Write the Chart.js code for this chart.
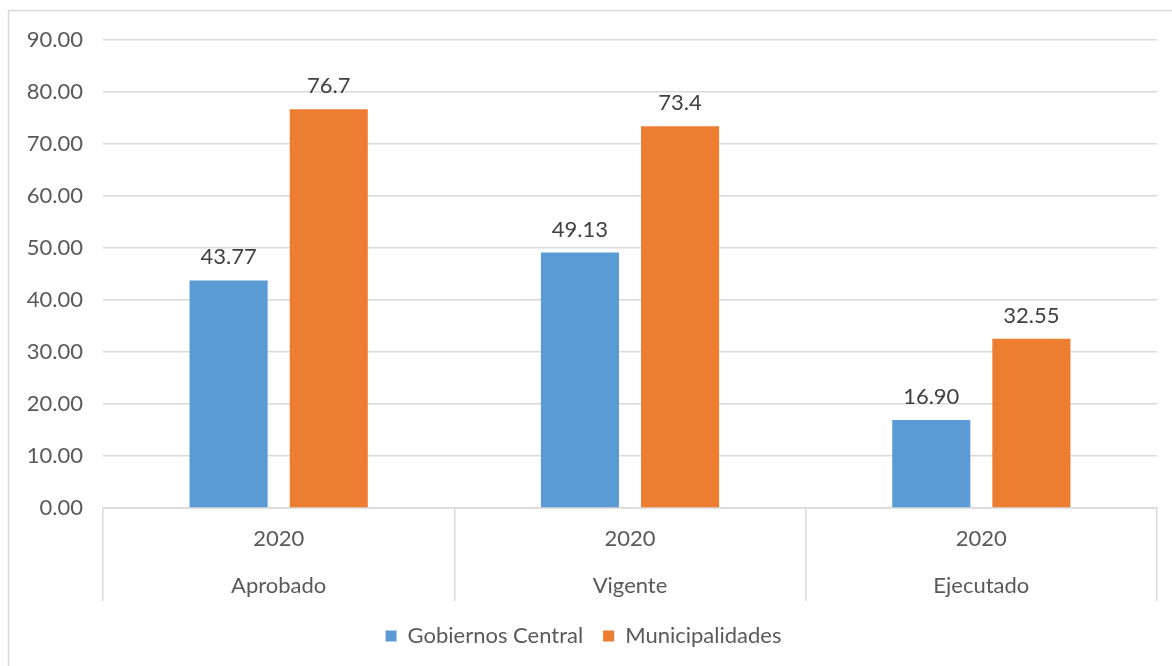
<!DOCTYPE html>
<html>
<head>
<meta charset="utf-8">
<script src="https://cdn.jsdelivr.net/npm/chart.js@4.4.1/dist/chart.umd.min.js"></script>
<style>
  html, body { margin: 0; padding: 0; background: #fff; }
  #wrap { width: 1172px; height: 666px; position: relative; }
</style>
</head>
<body>
<div id="wrap"><canvas id="chart" width="1172" height="666"></canvas></div>
<script>
// categories (two-level axis: year / stage)
const years = ['2020', '2020', '2020'];
const stages = ['Aprobado', 'Vigente', 'Ejecutado'];

// series
const central = [43.77, 49.13, 16.90];
const municipal = [76.7, 73.4, 32.55];
const centralLabels = ['43.77', '49.13', '16.90'];
const municipalLabels = ['76.7', '73.4', '32.55'];

const FONT = 'Lato, "Open Sans", sans-serif';
const TEXT = '#595959';
const GRID = '#D9D9D9';

// outer frame like the Excel chart border (right and bottom edges fall outside the crop)
const framePlugin = {
  id: 'frame',
  beforeDraw(chart) {
    const ctx = chart.ctx;
    ctx.save();
    ctx.strokeStyle = GRID;
    ctx.lineWidth = 1.5;
    ctx.strokeRect(8.5, 10.5, chart.width + 20, chart.height + 20);
    ctx.restore();
  },
};

// value labels above each bar
const valueLabels = {
  id: 'valueLabels',
  afterDatasetsDraw(chart) {
    const ctx = chart.ctx;
    ctx.save();
    ctx.font = '22px ' + FONT;
    ctx.fillStyle = '#404040';
    ctx.textAlign = 'center';
    ctx.textBaseline = 'alphabetic';
    chart.data.datasets.forEach((ds, i) => {
      chart.getDatasetMeta(i).data.forEach((bar, j) => {
        ctx.fillText(ds.labelsText[j], bar.x, bar.y - 16);
      });
    });
    ctx.restore();
  },
};

new Chart(document.getElementById('chart'), {
  type: 'bar',
  data: {
    labels: stages.map((s, i) => [years[i], s]),
    datasets: [
      { label: 'Gobiernos Central', data: central, labelsText: centralLabels, backgroundColor: '#5B9BD5' },
      { label: 'Municipalidades', data: municipal, labelsText: municipalLabels, backgroundColor: '#ED7D31' },
    ],
  },
  options: {
    responsive: false,
    animation: false,
    datasets: { bar: { categoryPercentage: 0.57, barPercentage: 0.78 } },
    layout: { padding: { left: 10, right: 15, top: 40, bottom: 9 } },
    plugins: {
      legend: {
        position: 'bottom',
        labels: { font: { family: FONT, size: 22 }, color: TEXT, boxWidth: 11, boxHeight: 11, padding: 20 },
      },
      tooltip: { enabled: false },
    },
    scales: {
      y: {
        min: 0,
        max: 90,
        ticks: {
          stepSize: 10,
          padding: 20,
          color: TEXT,
          font: { family: FONT, size: 22 },
          callback: v => v.toFixed(2),
        },
        grid: { color: GRID, lineWidth: 1.5, drawTicks: false },
        border: { display: false },
        afterFit(s) { s.width = 93; },
      },
      x: {
        ticks: {
          color: TEXT,
          padding: -86,
          font: { family: FONT, size: 22, lineHeight: 2.15 },
        },
        grid: { offset: true, drawOnChartArea: false, color: GRID, lineWidth: 1.5, tickLength: 93 },
        border: { color: GRID, width: 1.5 },
        afterFit(s) { s.height = 97; },
      },
    },
  },
  plugins: [framePlugin, valueLabels],
});
</script>
</body>
</html>
